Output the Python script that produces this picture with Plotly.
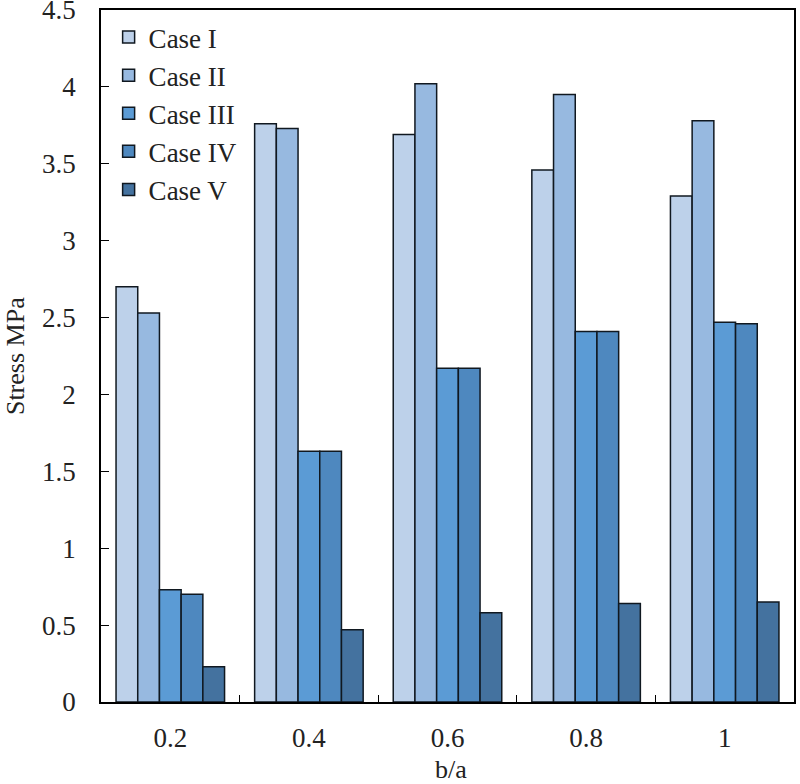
import plotly.graph_objects as go

categories = ["0.2", "0.4", "0.6", "0.8", "1"]
case_names = ["Case I", "Case II", "Case III", "Case IV", "Case V"]
case_1 = [2.70, 3.76, 3.69, 3.46, 3.29]
case_2 = [2.53, 3.73, 4.02, 3.95, 3.78]
case_3 = [0.73, 1.63, 2.17, 2.41, 2.47]
case_4 = [0.70, 1.63, 2.17, 2.41, 2.46]
case_5 = [0.23, 0.47, 0.58, 0.64, 0.65]
colors = ["#BDD1EA", "#97B9E0", "#5B9BD5", "#4E88BF", "#44729F"]
y_ticks = [0, 0.5, 1, 1.5, 2, 2.5, 3, 3.5, 4, 4.5]
y_tick_labels = ["0", "0.5", "1", "1.5", "2", "2.5", "3", "3.5", "4", "4.5"]
x_title = "b/a"
y_title = "Stress MPa"

series = [case_1, case_2, case_3, case_4, case_5]

fig = go.Figure()
for name, vals, col in zip(case_names, series, colors):
    fig.add_trace(go.Bar(
        x=categories, y=vals, name=name,
        marker=dict(color=col, line=dict(color="#101820", width=1.5)),
        legendgroup=name,
    ))

font_family = "Liberation Serif"
fig.update_layout(
    width=800, height=784,
    paper_bgcolor="white", plot_bgcolor="white",
    margin=dict(l=101, r=6, t=10, b=82),
    barmode="group", bargap=0.217, bargroupgap=0,
    font=dict(family=font_family, size=27, color="#222"),
    showlegend=True,
    legend=dict(
        x=0.011, y=0.9957, xanchor="left", yanchor="top",
        bgcolor="rgba(0,0,0,0)", font=dict(size=27, family=font_family),
        traceorder="grouped", tracegroupgap=0,
    ),
    xaxis=dict(
        type="category", automargin=False,
        showline=True, linecolor="black", linewidth=1.5, mirror=True,
        ticks="inside", tickson="boundaries", ticklen=7, tickcolor="black",
        ticklabelstandoff=11,
        showgrid=False, tickfont=dict(size=27),
    ),
    yaxis=dict(
        range=[0, 4.5], tickvals=y_ticks, ticktext=y_tick_labels,
        automargin=False, ticklabeloverflow="allow",
        showline=True, linecolor="black", linewidth=1.5, mirror=True,
        ticks="inside", ticklen=8, tickcolor="black", ticklabelstandoff=18,
        showgrid=False, zeroline=False, tickfont=dict(size=27),
    ),
    annotations=[
        dict(text=x_title, xref="paper", yref="paper", x=0.505, y=-0.098,
             xanchor="center", yanchor="middle", showarrow=False,
             font=dict(size=26, family=font_family, color="#222")),
        dict(text=y_title, xref="paper", yref="paper", x=-0.124, y=0.5,
             xanchor="center", yanchor="middle", textangle=-90, showarrow=False,
             font=dict(size=26, family=font_family, color="#222")),
    ],
)

fig.write_html("out.html", config={"displayModeBar": False},
               post_script="document.body.style.margin='0';")
